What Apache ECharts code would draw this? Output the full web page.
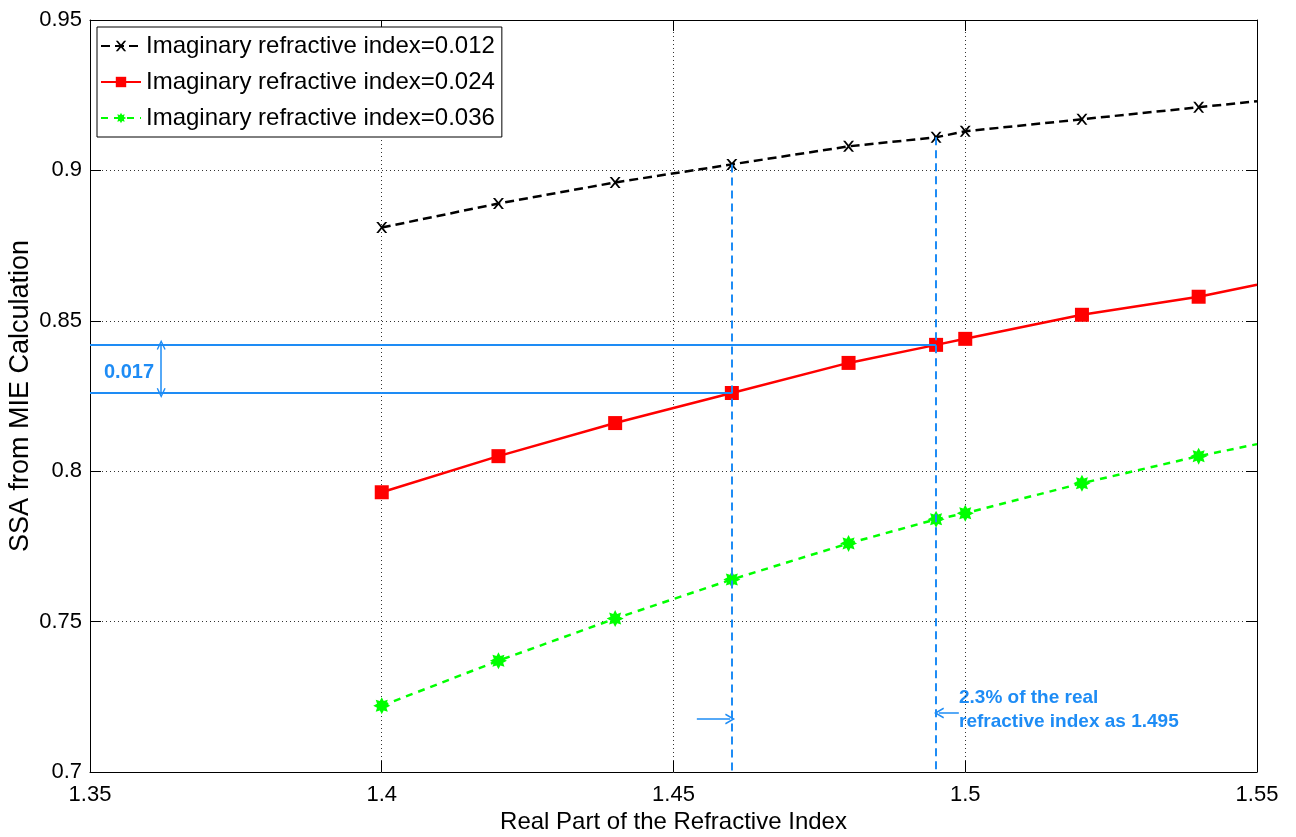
<!DOCTYPE html>
<html>
<head>
<meta charset="utf-8">
<script src="https://cdn.jsdelivr.net/npm/echarts@6/dist/echarts.min.js"></script>
<style>
html,body{margin:0;padding:0;background:#fff;}
#chart{width:1296px;height:837px;}
</style>
</head>
<body>
<div id="chart"></div>
<script>
// ---- data ----
var realIndex = [1.40, 1.42, 1.44, 1.46, 1.48, 1.495, 1.50, 1.52, 1.54, 1.55];
var ssa012 = [0.881, 0.889, 0.896, 0.902, 0.908, 0.911, 0.913, 0.917, 0.921, 0.923];
var ssa024 = [0.793, 0.805, 0.816, 0.826, 0.836, 0.842, 0.844, 0.852, 0.858, 0.862];
var ssa036 = [0.722, 0.737, 0.751, 0.764, 0.776, 0.784, 0.786, 0.796, 0.805, 0.809];
var seriesNames = ['Imaginary refractive index=0.012', 'Imaginary refractive index=0.024', 'Imaginary refractive index=0.036'];
var xTicks = [1.35, 1.40, 1.45, 1.50, 1.55];
var yTicks = [0.70, 0.75, 0.80, 0.85, 0.90, 0.95];
// annotation values
var refLowX = 1.46, refHighX = 1.495;
var refLowY = 0.826, refHighY = 0.842;
var diffArrowX = 1.3622;
var diffText = '0.017';
var rightArrow = [[1.4540, 0.7176], [1.4597, 0.7176]];
var leftArrow = [[1.4989, 0.7196], [1.4955, 0.7196]];
var noteLines = ['2.3% of the real', 'refractive index as 1.495'];

var BLUE = '#1e8cf5';
var xMarker = 'path://M0,0 L2,0 L5,3.6 L8,0 L10,0 L6,5 L10,10 L8,10 L5,6.4 L2,10 L0,10 L4,5 Z';
function starPath(n, ro, ri) {
  var s = 'path://';
  for (var i = 0; i < 2 * n; i++) {
    var r = (i % 2 === 0) ? ro : ri;
    var a = Math.PI * i / n - Math.PI / 2;
    s += (i === 0 ? 'M' : 'L') + (10 + r * Math.cos(a)).toFixed(2) + ',' + (10 + r * Math.sin(a)).toFixed(2) + ' ';
  }
  return s + 'Z';
}
var starMarker = starPath(8, 10, 6);
var chevron = 'path://M5,0 L10,9 L8.6,9.6 L5,3 L1.4,9.6 L0,9 Z';

function pairs(ys) {
  return realIndex.map(function (x, i) {
    var d = {value: [x, ys[i]]};
    if (i === realIndex.length - 1) d.symbol = 'none';
    return d;
  });
}

var chart = echarts.init(document.getElementById('chart'));
var FONT = 'Liberation Sans, Arial, sans-serif';

var boxAxis = {
  axisLine: {show: true, onZero: false, lineStyle: {color: '#000', width: 1}},
  axisTick: {show: true, inside: true, length: 11, lineStyle: {color: '#000'}},
  axisLabel: {show: false},
  splitLine: {show: false}
};

var option = {
  animation: false,
  backgroundColor: '#fff',
  grid: {left: 90, right: 39, top: 20, bottom: 65, containLabel: false, outerBoundsMode: 'none'},
  legend: {
    data: seriesNames,
    orient: 'vertical',
    left: 97, top: 27,
    backgroundColor: '#fff',
    borderColor: '#000', borderWidth: 1, borderRadius: 0,
    padding: [6, 7, 6, 3],
    itemWidth: 40, itemHeight: 13, itemGap: 10,
    textStyle: {fontFamily: FONT, fontSize: 24, color: '#000', lineHeight: 26}
  },
  xAxis: [
    {
      type: 'value', min: 1.35, max: 1.55, interval: 0.05,
      name: 'Real Part of the Refractive Index', nameLocation: 'middle', nameGap: 38,
      nameMoveOverlap: false,
      nameTextStyle: {fontFamily: FONT, fontSize: 24, color: '#000'},
      axisLine: {show: true, onZero: false, lineStyle: {color: '#000', width: 1}},
      axisTick: {show: true, inside: true, length: 11, lineStyle: {color: '#000'}},
      axisLabel: {fontFamily: FONT, fontSize: 22, color: '#000', margin: 12,
        formatter: function (v) { return String(+v.toFixed(2)); }},
      splitLine: {show: true, lineStyle: {color: '#333', width: 1, type: [1, 3]}}
    },
    Object.assign({type: 'value', position: 'top', min: 1.35, max: 1.55, interval: 0.05}, boxAxis)
  ],
  yAxis: [
    {
      type: 'value', min: 0.70, max: 0.95, interval: 0.05,
      name: 'SSA from MIE Calculation', nameLocation: 'middle', nameGap: 56, nameRotate: 90,
      nameMoveOverlap: false,
      nameTextStyle: {fontFamily: FONT, fontSize: 27, color: '#000'},
      axisLine: {show: true, onZero: false, lineStyle: {color: '#000', width: 1}},
      axisTick: {show: true, inside: true, length: 11, lineStyle: {color: '#000'}},
      axisLabel: {fontFamily: FONT, fontSize: 22, color: '#000', margin: 8,
        formatter: function (v) { return String(+v.toFixed(2)); }},
      splitLine: {show: true, lineStyle: {color: '#333', width: 1, type: [1, 3]}}
    },
    Object.assign({type: 'value', position: 'right', min: 0.70, max: 0.95, interval: 0.05}, boxAxis)
  ],
  series: [
    {
      name: 'annot', type: 'line', data: [[1.35, 0.70]], symbol: 'none', silent: true,
      lineStyle: {opacity: 0}, z: 1,
      markLine: {
        silent: true, animation: false, precision: 4,
        label: {show: false},
        symbol: ['none', 'none'],
        data: [
          [{coord: [1.35, refHighY], lineStyle: {color: BLUE, width: 2, type: 'solid'}}, {coord: [refHighX, refHighY]}],
          [{coord: [1.35, refLowY], lineStyle: {color: BLUE, width: 2, type: 'solid'}}, {coord: [refLowX, refLowY]}],
          [{coord: [refLowX, ssa012[realIndex.indexOf(refLowX)]], lineStyle: {color: BLUE, width: 2, type: [8, 5]}}, {coord: [refLowX, 0.70]}],
          [{coord: [refHighX, ssa012[realIndex.indexOf(refHighX)]], lineStyle: {color: BLUE, width: 2, type: [8, 5]}}, {coord: [refHighX, 0.70]}],
          [{coord: [diffArrowX, refHighY], symbol: chevron, symbolSize: [9, 10], lineStyle: {color: BLUE, width: 1.5, type: 'solid'}},
           {coord: [diffArrowX, refLowY], symbol: chevron, symbolSize: [9, 10]}],
          [{coord: rightArrow[0], symbol: 'none', lineStyle: {color: BLUE, width: 1.5, type: 'solid'}},
           {coord: rightArrow[1], symbol: chevron, symbolSize: [11, 10]}],
          [{coord: leftArrow[0], symbol: 'none', lineStyle: {color: BLUE, width: 1.5, type: 'solid'}},
           {coord: leftArrow[1], symbol: chevron, symbolSize: [11, 10]}]
        ]
      }
    },
    {
      name: seriesNames[0], type: 'line', data: pairs(ssa012), z: 3,
      symbol: xMarker, symbolSize: 11, showAllSymbol: true,
      lineStyle: {color: '#000', width: 2.5, type: [9, 5]},
      itemStyle: {color: '#000'}
    },
    {
      name: seriesNames[1], type: 'line', data: pairs(ssa024), z: 3,
      symbol: 'rect', symbolSize: 14, showAllSymbol: true,
      lineStyle: {color: '#ff0000', width: 2.5, type: 'solid'},
      itemStyle: {color: '#ff0000'}
    },
    {
      name: seriesNames[2], type: 'line', data: pairs(ssa036), z: 3,
      symbol: starMarker, symbolSize: 17, showAllSymbol: true,
      lineStyle: {color: '#00ff00', width: 2.5, type: [7, 6]},
      itemStyle: {color: '#00ff00'}
    }
  ],
  graphic: [
    {type: 'text', left: 104, top: 362, silent: true,
      style: {text: diffText, fill: BLUE, font: 'bold 20px ' + FONT}},
    {type: 'text', left: 959, top: 686, silent: true,
      style: {text: noteLines.join('\n'), fill: BLUE, font: 'bold 19px ' + FONT, lineHeight: 24}}
  ]
};
chart.setOption(option);
</script>
</body>
</html>
